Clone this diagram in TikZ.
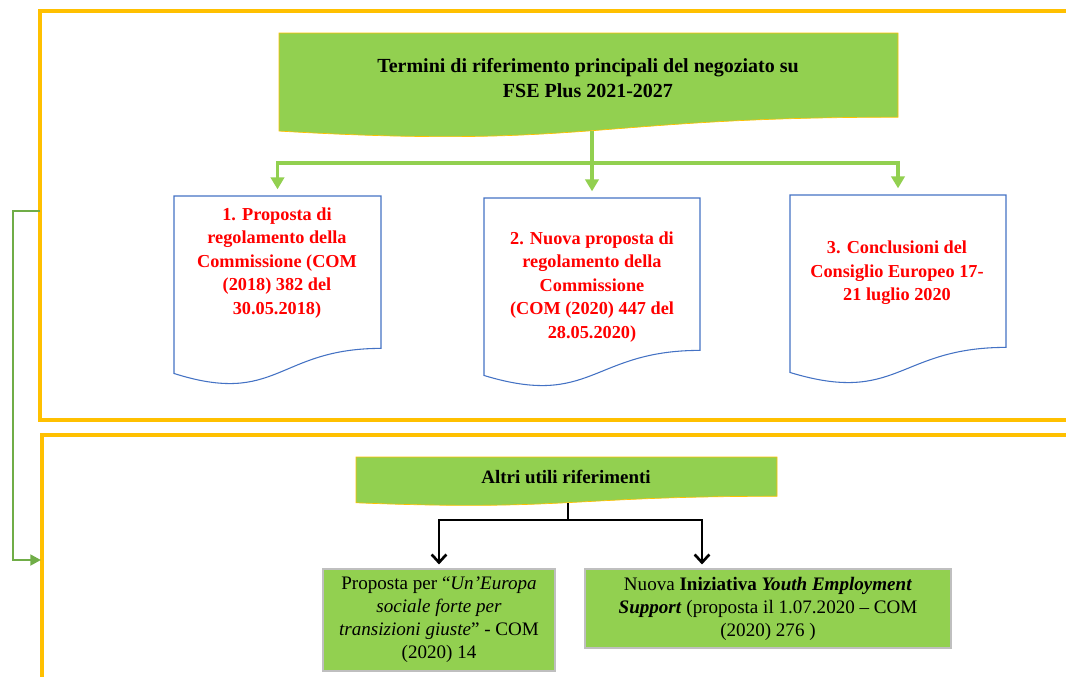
\documentclass[tikz,border=0pt]{standalone}
\usepackage{fontspec}
\setmainfont{Liberation Serif}
\usetikzlibrary{arrows.meta,calc}

\definecolor{giallo}{HTML}{FFC000}
\definecolor{verdechiaro}{HTML}{92D050}
\definecolor{verdescuro}{HTML}{70AD47}
\definecolor{blu}{HTML}{4472C4}
\definecolor{grigio}{HTML}{BFBFBF}

% contorno a "documento" (bordo inferiore ondulato) attorno a un nodo
\newcommand{\documento}[1]{(#1.north west) -- (#1.north east)
  -- ($(#1.north east)!0.802!(#1.south east)$)
  .. controls ($(#1.north)!0.802!(#1.south)$) and ($(#1.north)!1.107!(#1.south)$)
  .. ($(#1.north west)!0.934!(#1.south west)$) -- cycle}

\begin{document}
\begin{tikzpicture}[x=0.75pt,y=-0.75pt,
  cornice/.style={draw=giallo,line width=2.3pt},
  area/.style={inner sep=0pt,outer sep=0pt},
  docverde/.style={fill=verdechiaro,draw=giallo,line width=0.5pt},
  docblu/.style={fill=white,draw=blu,line width=0.8pt},
  titolotesto/.style={align=center,font=\fontsize{15}{18.75}\selectfont\bfseries},
  rosso/.style={align=center,text=red,font=\fontsize{13.7}{17.6}\selectfont\bfseries},
  riquadro/.style={fill=verdechiaro,draw=grigio,line width=0.8pt,align=center,inner sep=2pt,
    font=\fontsize{14.3}{17.25}\selectfont},
  freccia/.style={draw=verdechiaro,line width=2.8pt,-{Triangle[length=9pt,width=10pt]},shorten >=5pt},
  ritorno/.style={draw=verdescuro,line width=2.2pt,-{Triangle[length=8pt,width=8pt]}},
  nera/.style={draw=black,line width=2pt,-{Straight Barb[length=6pt,width=11pt]},shorten >=3pt}
]
\useasboundingbox (0,0) rectangle (1066,676);

% cornici
\draw[cornice] (1075,11) -- (40,11) -- (40,420) -- (1075,420);
\draw[cornice] (1075,435) -- (42,435) -- (42,685);

% parte superiore
\node[area,minimum width=464.25pt,minimum height=78.75pt] (titolo) at (588.5,85.5) {};
\node[area,minimum width=155.25pt,minimum height=142.5pt] (d1) at (277.5,291) {};
\node[area,minimum width=162pt,minimum height=142.5pt] (d2) at (592,293) {};
\node[area,minimum width=162pt,minimum height=142.5pt] (d3) at (898,290) {};
\draw[docverde] \documento{titolo};
\draw[docblu] \documento{d1};
\draw[docblu] \documento{d2};
\draw[docblu] \documento{d3};

\node[titolotesto] (ttitolo) at (588,78) {Termini di riferimento principali del negoziato su\\FSE Plus 2021-2027};
\node[rosso] (t1) at (277,263) {1. Proposta di\\regolamento della\\Commissione (COM\\(2018) 382 del\\30.05.2018)};
\node[rosso] (t2) at (592,287) {2. Nuova proposta di\\regolamento della\\Commissione\\(COM (2020) 447 del\\28.05.2020)};
\node[rosso] (t3) at (897,273) {3. Conclusioni del\\Consiglio Europeo 17-\\21 luglio 2020};

\coordinate (ramo) at (592,163);
\coordinate (tbase) at ($(titolo.north)!0.93!(titolo.south)$);
\draw[freccia,-,shorten >=0pt] (tbase -| ramo) -- (ramo);
\draw[freccia] (ramo) -| (d1.north);
\draw[freccia] (ramo) -- (d2.north);
\draw[freccia] (ramo) -| (d3.north);

% parte inferiore
\node[area,minimum width=315.75pt,minimum height=36.75pt] (altri) at (566.5,481.5) {};
\draw[docverde] \documento{altri};
\node[titolotesto,font=\fontsize{14.2}{17}\selectfont\bfseries] (taltri) at (566,477) {Altri utili riferimenti};

\node[riquadro,minimum width=174pt,minimum height=76.5pt] (b1) at (439,620)
  {Proposta per “\textit{Un’Europa}\\\textit{sociale forte per}\\\textit{transizioni giuste}” - COM\\(2020) 14};
\node[riquadro,minimum width=274.5pt,minimum height=59.25pt] (b2) at (768,608.5)
  {Nuova \textbf{Iniziativa} \textbf{\textit{Youth Employment}}\\\textbf{\textit{Support}} (proposta il 1.07.2020 – COM\\(2020) 276 )};

\coordinate (snodo) at (568,520);
\coordinate (abase) at ($(altri.north)!0.94!(altri.south)$);
\draw[nera,-,shorten >=0pt] (abase -| snodo) -- (snodo);
\draw[nera] (snodo) -| (b1.north);
\draw[nera] (snodo) -| ([xshift=-49.5pt]b2.north);

% collegamento tra le due cornici
\coordinate (uscita) at (40,211);
\coordinate (ingresso) at (41,560);
\draw[ritorno] (uscita) -- ++(-27,0) |- (ingresso);
\end{tikzpicture}
\end{document}
